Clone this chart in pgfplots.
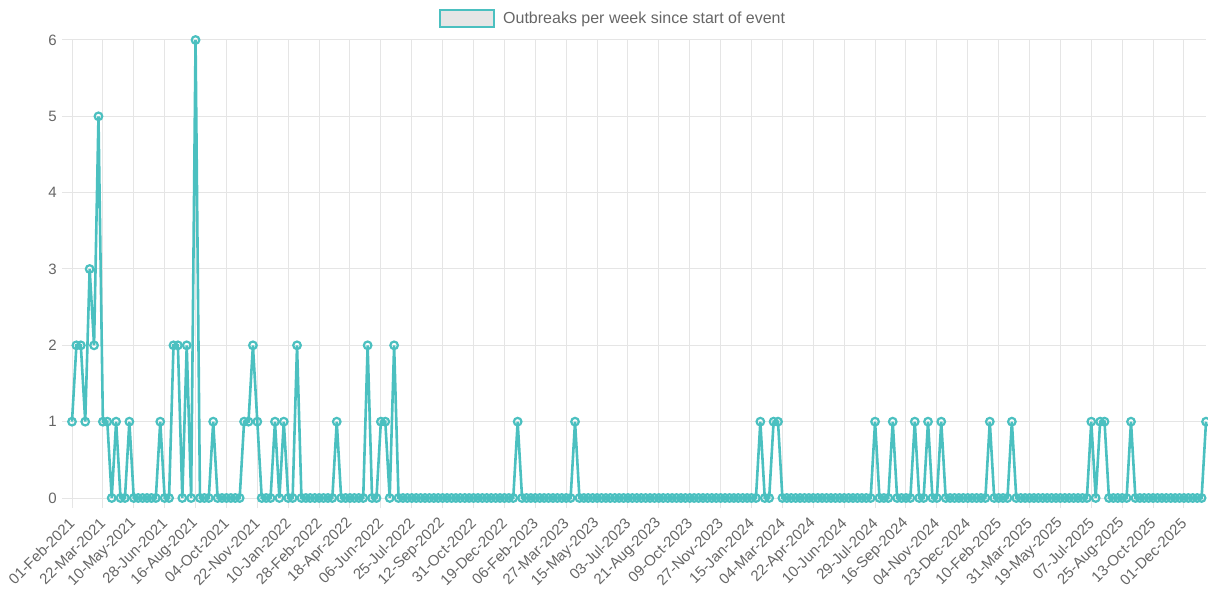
\documentclass[border=0pt]{standalone}
\usepackage{pgfplots}
\usepackage{pgfplotstable}
\pgfplotsset{compat=1.18}
\usepackage{fontspec}
\setmainfont{Liberation Sans}
\definecolor{teal1}{RGB}{75,192,192}
\definecolor{tickgray}{HTML}{666666}
\definecolor{gridgray}{HTML}{E5E5E5}
\definecolor{ptfill}{HTML}{E6E6E6}
\pgfplotstableread[row sep=\\]{
y\\
1\\2\\2\\1\\3\\2\\5\\1\\1\\0\\
1\\0\\0\\1\\0\\0\\0\\0\\0\\0\\
1\\0\\0\\2\\2\\0\\2\\0\\6\\0\\
0\\0\\1\\0\\0\\0\\0\\0\\0\\1\\
1\\2\\1\\0\\0\\0\\1\\0\\1\\0\\
0\\2\\0\\0\\0\\0\\0\\0\\0\\0\\
1\\0\\0\\0\\0\\0\\0\\2\\0\\0\\
1\\1\\0\\2\\0\\0\\0\\0\\0\\0\\
0\\0\\0\\0\\0\\0\\0\\0\\0\\0\\
0\\0\\0\\0\\0\\0\\0\\0\\0\\0\\
0\\1\\0\\0\\0\\0\\0\\0\\0\\0\\
0\\0\\0\\0\\1\\0\\0\\0\\0\\0\\
0\\0\\0\\0\\0\\0\\0\\0\\0\\0\\
0\\0\\0\\0\\0\\0\\0\\0\\0\\0\\
0\\0\\0\\0\\0\\0\\0\\0\\0\\0\\
0\\0\\0\\0\\0\\0\\1\\0\\0\\1\\
1\\0\\0\\0\\0\\0\\0\\0\\0\\0\\
0\\0\\0\\0\\0\\0\\0\\0\\0\\0\\
0\\0\\1\\0\\0\\0\\1\\0\\0\\0\\
0\\1\\0\\0\\1\\0\\0\\1\\0\\0\\
0\\0\\0\\0\\0\\0\\0\\0\\1\\0\\
0\\0\\0\\1\\0\\0\\0\\0\\0\\0\\
0\\0\\0\\0\\0\\0\\0\\0\\0\\0\\
0\\1\\0\\1\\1\\0\\0\\0\\0\\0\\
1\\0\\0\\0\\0\\0\\0\\0\\0\\0\\
0\\0\\0\\0\\0\\0\\0\\1\\
}\outbreaks
\begin{document}
\begin{tikzpicture}
\useasboundingbox (0,0) rectangle (1208bp,596bp);
\begin{axis}[
  at={(72bp,98bp)}, anchor=south west,
  scale only axis,
  width=1134bp, height=458bp,
  xmin=0, xmax=257, ymin=0, ymax=6,
  clip=false,
  axis line style={draw=gridgray, line width=1bp},
  axis x line*=bottom, axis y line*=left,
  grid=major,
  major grid style={draw=gridgray, line width=1bp},
  tick align=outside,
  major tick length=10bp,
  major tick style={draw=gridgray, line width=1bp},
  ytick={0,1,2,3,4,5,6},
  xtick={0,7,...,252},
  xticklabels={01-Feb-2021,22-Mar-2021,10-May-2021,28-Jun-2021,16-Aug-2021,04-Oct-2021,22-Nov-2021,10-Jan-2022,28-Feb-2022,18-Apr-2022,06-Jun-2022,25-Jul-2022,12-Sep-2022,31-Oct-2022,19-Dec-2022,06-Feb-2023,27-Mar-2023,15-May-2023,03-Jul-2023,21-Aug-2023,09-Oct-2023,27-Nov-2023,15-Jan-2024,04-Mar-2024,22-Apr-2024,10-Jun-2024,29-Jul-2024,16-Sep-2024,04-Nov-2024,23-Dec-2024,10-Feb-2025,31-Mar-2025,19-May-2025,07-Jul-2025,25-Aug-2025,13-Oct-2025,01-Dec-2025},
  /pgf/number format/assume math mode=true,
  ticklabel style={font=\fontsize{15bp}{18bp}\selectfont, text=tickgray},
  yticklabel style={anchor=east, inner sep=0pt, xshift=-5bp},
  xticklabel style={yshift=-13bp, xshift=0bp, rotate=45, anchor=east, inner sep=0pt},
  legend style={at={(axis description cs:0.4762,1.047)}, anchor=center,
    draw=none, fill=none, text=tickgray,
    font=\fontsize{16bp}{19bp}\selectfont,
    nodes={inner sep=0pt}},
  legend image code/.code={\draw[draw=teal1, fill=ptfill, line width=2bp] (0bp,-8.5bp) rectangle (54bp,8.5bp); \path (62bp,0);},
]
\addplot[teal1, line width=2.6bp, mark=o, mark size=3.8bp,
  mark options={draw=teal1, fill=ptfill, line width=2.2bp}]
  table[x expr=\coordindex, y=y] {\outbreaks};
\addlegendentry{Outbreaks per week since start of event}
\end{axis}
\end{tikzpicture}
\end{document}
